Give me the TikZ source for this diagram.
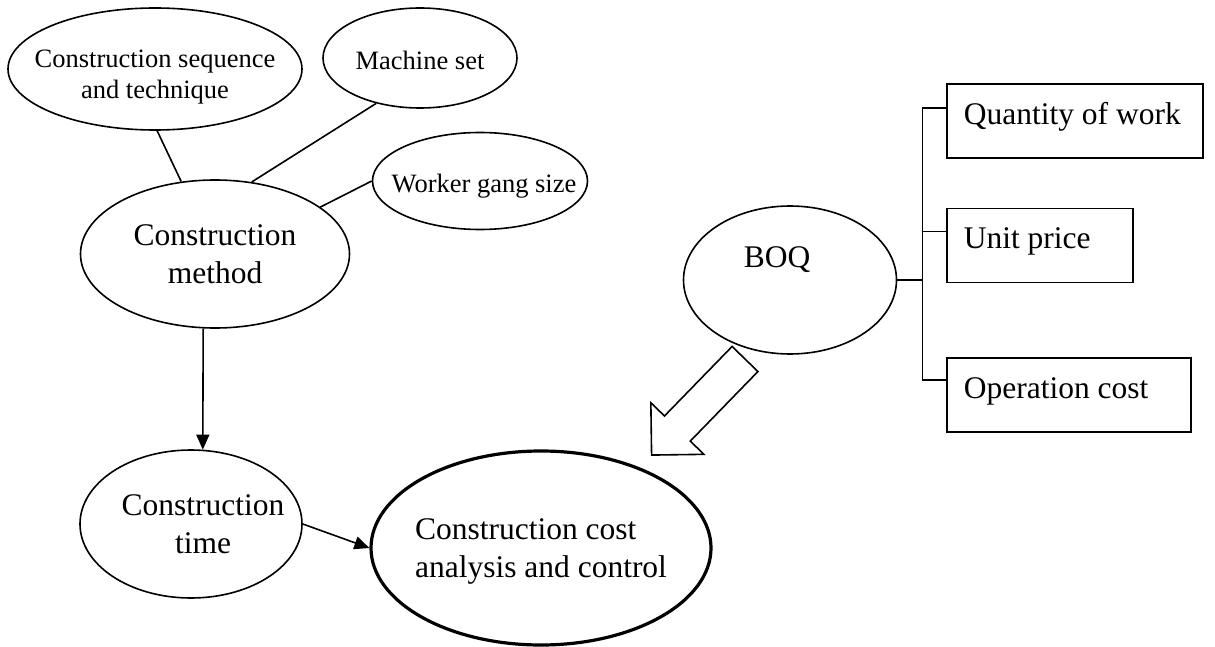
\documentclass[tikz,border=0pt]{standalone}
\usepackage{fontspec}
\setmainfont{Liberation Serif}
\usetikzlibrary{arrows.meta,positioning,calc,shapes}

\begin{document}
\begin{tikzpicture}[x=1pt, y=1pt, >={Triangle[length=15pt,width=13pt]}, line width=1.6pt,
  oval/.style={draw, ellipse, inner sep=0pt},
  big/.style={font=\fontsize{31.5}{38}\selectfont, align=center},
  small/.style={font=\fontsize{26.5}{31.5}\selectfont, align=center},
  box/.style={draw, rectangle, anchor=north west, minimum height=74pt, inner xsep=17pt, align=flush left,
    text height=17pt, text depth=10pt, font=\fontsize{31.5}{38}\selectfont}]
  \useasboundingbox (0,0) rectangle (1215,-647);

  % method side
  \node[oval, minimum width=294pt, minimum height=122pt, label={[small, yshift=-8pt]center:{Construction sequence\\and technique}}] (seq) at (155,-69) {};
  \node[oval, minimum width=194pt, minimum height=100pt, label={[small, yshift=-2pt]center:Machine set}] (machine) at (420,-58) {};
  \node[oval, minimum width=215pt, minimum height=97pt, label={[small, xshift=4pt, yshift=-5pt]center:Worker gang size}] (worker) at (480,-181) {};
  \node[oval, minimum width=269pt, minimum height=148pt, label={[big]center:{Construction\\method}}] (method) at (215,-254) {};
  \node[oval, minimum width=222pt, minimum height=148pt, label={[big, xshift=12pt]center:{Construction\\time}}] (time) at (191,-524) {};
  \node[oval, line width=3.2pt, minimum width=340pt, minimum height=194pt, label={[big, align=left, yshift=-3pt]center:{Construction cost\\analysis and control}}] (cost) at (541,-548) {};

  % BOQ side
  \node[oval, minimum width=213pt, minimum height=148pt, label={[big, xshift=-13pt, yshift=20pt]center:BOQ}] (boq) at (790,-280) {};
  \node[box, text width=222pt] (qty) at (946,-83) {Quantity of work};
  \node[box, text width=152pt, below=49pt of qty.south west, anchor=north west] (unit) {Unit price};
  \node[box, text width=210pt, below=74pt of unit.south west, anchor=north west] (opcost) {Operation cost};

  \draw (seq.-88) -- (method.115);
  \draw (machine.-134) -- (method.63);
  \draw (worker.west) -- (method.24);
  \draw[->] (method.-99) -- (time.81);
  \draw[->] (time.east) -- (cost.west);

  \draw (boq.east) -- ++(25,0) coordinate (brk);
  \draw ($(qty.north west)+(0,-25)$) -| (brk) |- ($(opcost.north west)+(0,-23)$);
  \draw ($(unit.north west)+(0,-24)$) -| (brk);

  % hollow arrow BOQ -> cost
  \draw[shift={($(boq.center)+(-45,-79)$)}, rotate=225.8]
    (0,18) -- (97,18) -- (97,37) -- (134,0) -- (97,-37) -- (97,-18) -- (0,-18) -- cycle;
\end{tikzpicture}
\end{document}
